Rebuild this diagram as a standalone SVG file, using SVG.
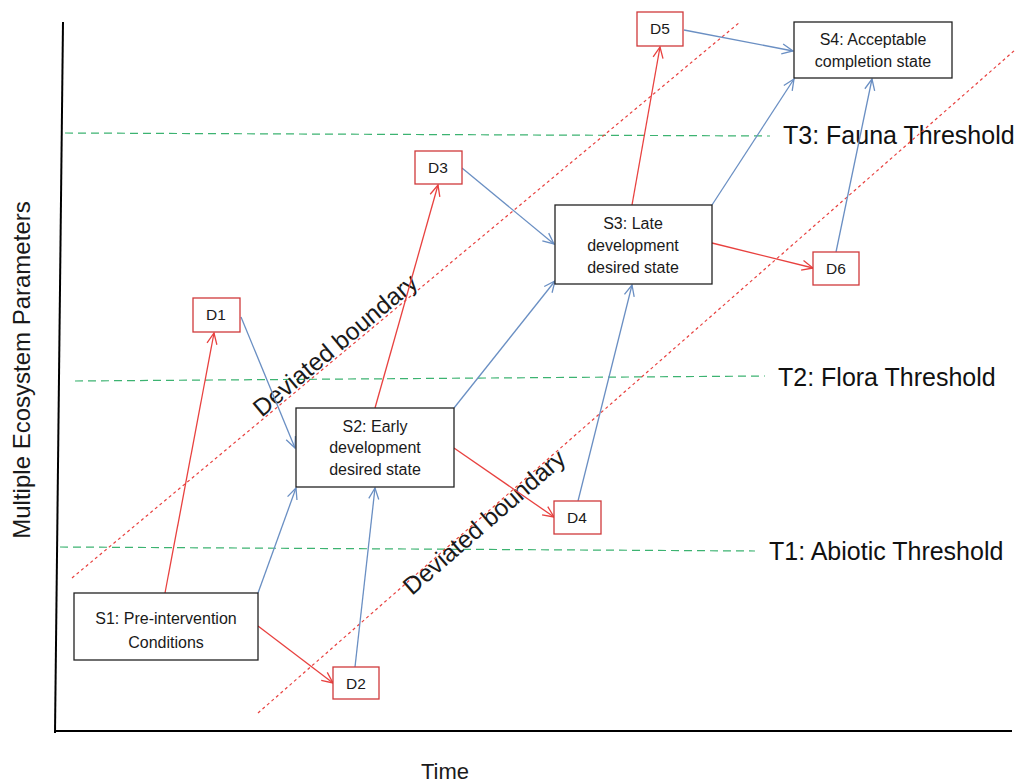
<svg xmlns="http://www.w3.org/2000/svg" width="1015" height="783" viewBox="0 0 1015 783">
<style>
text{font-family:"Liberation Sans",Arial,sans-serif;fill:#1a1a1a}
.box{fill:#fff;stroke:#222;stroke-width:1.3}
.dbox{fill:#fff;stroke:#d0393b;stroke-width:1.3}
.bt{font-size:16px;text-anchor:middle}
.dt{font-size:15.5px;text-anchor:middle}
.red{stroke:#e8413f;stroke-width:1.3;fill:none}
.blue{stroke:#6a8fc3;stroke-width:1.3;fill:none}
.thr{stroke:#3cb371;stroke-width:1.2;stroke-dasharray:8 5;fill:none}
.dev{stroke:#e8413f;stroke-width:1.2;stroke-dasharray:3 3;fill:none}
.big{font-size:24.5px}
.thl{font-size:25px;fill:#111}
</style>
<defs>
<marker id="ar" markerWidth="14" markerHeight="14" refX="12" refY="6" orient="auto" markerUnits="userSpaceOnUse"><path d="M1,1 L12,6 L1,11" fill="none" stroke="#e8413f" stroke-width="1.3"/></marker>
<marker id="ab" markerWidth="14" markerHeight="14" refX="12" refY="6" orient="auto" markerUnits="userSpaceOnUse"><path d="M1,1 L12,6 L1,11" fill="none" stroke="#6a8fc3" stroke-width="1.3"/></marker>
</defs>
<rect width="1015" height="783" fill="#fff"/>
<g id="axes">
<line x1="63" y1="22" x2="55" y2="733" stroke="#000" stroke-width="2"/>
<line x1="55" y1="731" x2="1012" y2="731" stroke="#000" stroke-width="2"/>
<text x="30" y="370" font-size="24" text-anchor="middle" transform="rotate(-90 30 370)">Multiple Ecosystem Parameters</text>
<text x="445" y="779" font-size="22" text-anchor="middle">Time</text>
</g>
<g id="thresholds">
<path class="thr" d="M65,133 L770,136"/>
<path class="thr" d="M75,381 L765,376"/>
<path class="thr" d="M60,547 L755,551"/>
<text class="thl" x="783" y="144">T3: Fauna Threshold</text>
<text class="thl" x="778" y="386">T2: Flora Threshold</text>
<text class="thl" x="769" y="560">T1: Abiotic Threshold</text>
</g>
<g id="boundaries">
<path class="dev" d="M72,578 L740,22"/>
<path class="dev" d="M258,713 L1015,50"/>
<text class="big" text-anchor="middle" dy="0.35em" transform="translate(335,345) rotate(-40)">Deviated boundary</text>
<text class="big" text-anchor="middle" dy="0.35em" transform="translate(484,522) rotate(-41)">Deviated boundary</text>
</g>
<g id="connectors">
<line class="red" x1="165" y1="593" x2="214" y2="333" marker-end="url(#ar)"/>
<line class="blue" x1="258" y1="593" x2="296" y2="488" marker-end="url(#ab)"/>
<line class="red" x1="258" y1="626" x2="333" y2="683" marker-end="url(#ar)"/>
<line class="blue" x1="355" y1="667" x2="375" y2="488" marker-end="url(#ab)"/>
<line class="blue" x1="241" y1="317" x2="295" y2="448" marker-end="url(#ab)"/>
<line class="red" x1="375" y1="408" x2="438" y2="185" marker-end="url(#ar)"/>
<line class="blue" x1="454" y1="408" x2="555" y2="281" marker-end="url(#ab)"/>
<line class="red" x1="454" y1="448" x2="554" y2="517" marker-end="url(#ar)"/>
<line class="blue" x1="578" y1="501" x2="632" y2="285" marker-end="url(#ab)"/>
<line class="blue" x1="462" y1="168" x2="554" y2="244" marker-end="url(#ab)"/>
<line class="red" x1="632" y1="205" x2="660" y2="47" marker-end="url(#ar)"/>
<line class="blue" x1="712" y1="205" x2="794" y2="79" marker-end="url(#ab)"/>
<line class="red" x1="712" y1="243" x2="813" y2="268" marker-end="url(#ar)"/>
<line class="blue" x1="836" y1="252" x2="872" y2="79" marker-end="url(#ab)"/>
<line class="blue" x1="684" y1="30" x2="793" y2="51" marker-end="url(#ab)"/>
</g>
<g id="S1"><rect class="box" x="74" y="593" width="184" height="67"/><text class="bt" x="166" y="624">S1: Pre-intervention</text><text class="bt" x="166" y="648">Conditions</text></g>
<g id="S2"><rect class="box" x="296" y="408" width="158" height="79"/><text class="bt" x="375" y="432">S2: Early</text><text class="bt" x="375" y="453">development</text><text class="bt" x="375" y="475">desired state</text></g>
<g id="S3"><rect class="box" x="555" y="205" width="157" height="79"/><text class="bt" x="633" y="229">S3: Late</text><text class="bt" x="633" y="251">development</text><text class="bt" x="633" y="273">desired state</text></g>
<g id="S4"><rect class="box" x="794" y="22" width="158" height="56"/><text class="bt" x="873" y="45">S4: Acceptable</text><text class="bt" x="873" y="67">completion state</text></g>
<g id="D1"><rect class="dbox" x="193" y="298" width="47" height="34"/><text class="dt" x="216" y="320">D1</text></g>
<g id="D2"><rect class="dbox" x="333" y="667" width="46" height="32"/><text class="dt" x="356" y="689">D2</text></g>
<g id="D3"><rect class="dbox" x="415" y="151" width="47" height="33"/><text class="dt" x="438" y="173">D3</text></g>
<g id="D4"><rect class="dbox" x="554" y="501" width="47" height="33"/><text class="dt" x="577" y="523">D4</text></g>
<g id="D5"><rect class="dbox" x="637" y="12" width="46" height="34"/><text class="dt" x="660" y="34">D5</text></g>
<g id="D6"><rect class="dbox" x="813" y="252" width="46" height="33"/><text class="dt" x="836" y="274">D6</text></g>
</svg>
